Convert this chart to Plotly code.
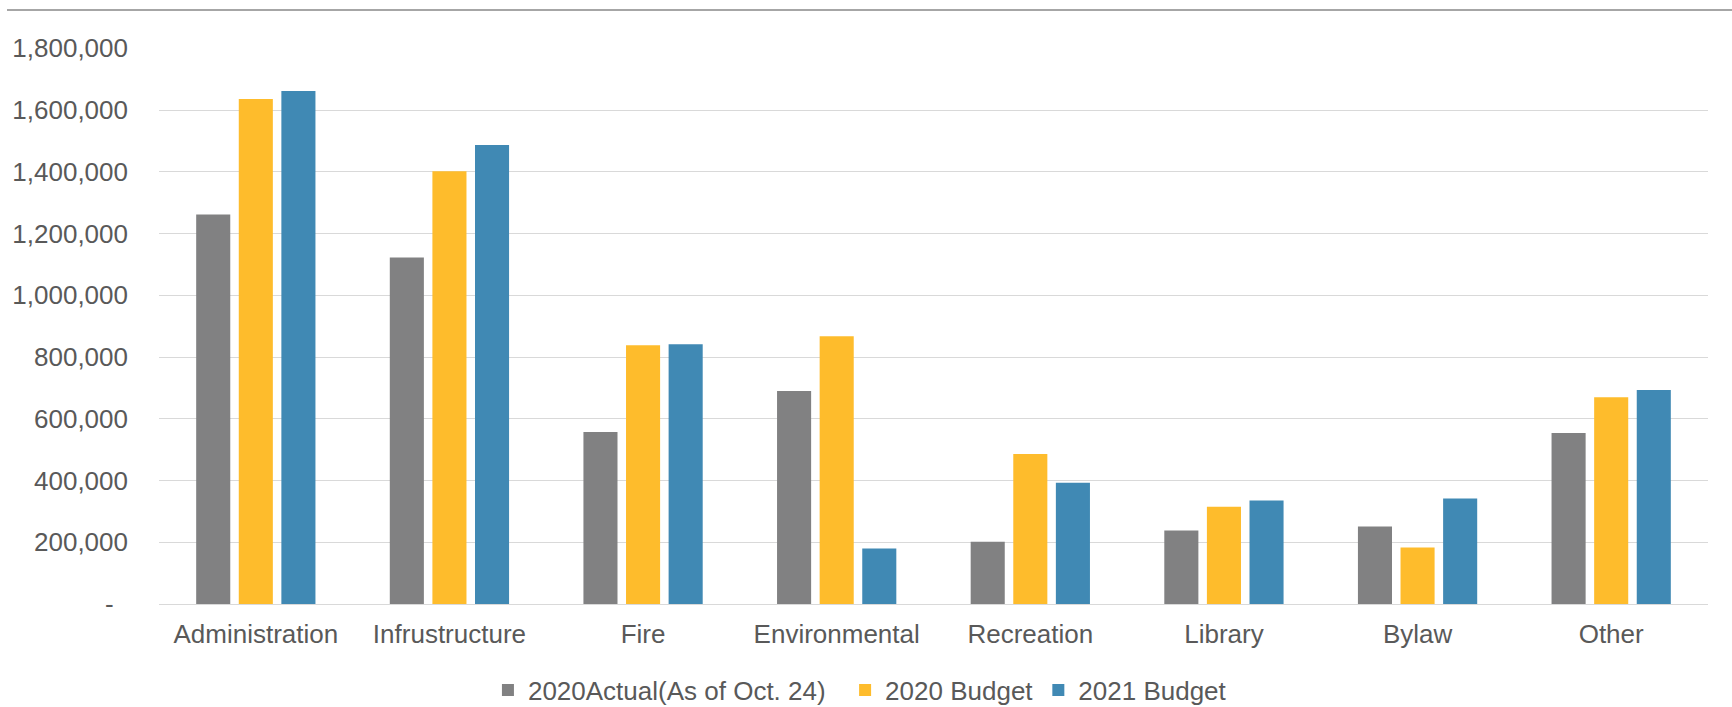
import plotly.graph_objects as go

# Departments on the x axis
departments = ["Administration", "Infrustructure", "Fire", "Environmental",
               "Recreation", "Library", "Bylaw", "Other"]

# Series values
actual_2020 = [1262000, 1122000, 557000, 690000, 202000, 238000, 251000, 554000]
budget_2020 = [1636000, 1402000, 838000, 867000, 486000, 315000, 183000, 670000]
budget_2021 = [1662000, 1487000, 841000, 180000, 393000, 335000, 342000, 693000]

series_names = ["2020Actual(As of Oct. 24)", "2020 Budget", "2021 Budget"]
series_colors = ["#818182", "#FEBC2C", "#4089B4"]

# Y axis ticks
y_tickvals = [0, 200000, 400000, 600000, 800000, 1000000, 1200000,
              1400000, 1600000, 1800000]
y_ticktext = ["-\u00a0\u00a0"] + [f"{v:,}" for v in y_tickvals[1:]]

W, H = 1732, 707
M_L, M_R, M_T, M_B = 159, 24, 48, 103
FONT = "Liberation Sans, Arial, sans-serif"
TEXT_COLOR = "#595959"

fig = go.Figure()
for i, (name, vals, color) in enumerate(zip(series_names,
                                            [actual_2020, budget_2020, budget_2021],
                                            series_colors)):
    # a little extra room after the long first legend entry
    label = name + "\u00a0\u00a0" if i == 0 else name
    fig.add_trace(go.Bar(x=departments, y=vals, name=label,
                         marker=dict(color=color, line=dict(width=0))))

# thin rule across the top of the chart
plot_w = W - M_L - M_R
plot_h = H - M_T - M_B
fig.add_shape(type="line", xref="paper", yref="paper",
              x0=(7 - M_L) / plot_w, x1=(W - M_L) / plot_w,
              y0=(H - M_B - 10) / plot_h, y1=(H - M_B - 10) / plot_h,
              line=dict(color="#888888", width=1.3))

fig.update_layout(
    width=W, height=H,
    margin=dict(l=M_L, r=M_R, t=M_T, b=M_B, pad=0),
    paper_bgcolor="white", plot_bgcolor="white",
    barmode="group", bargap=0.34, bargroupgap=0.2,
    font=dict(family=FONT, size=26, color=TEXT_COLOR),
    showlegend=True,
    legend=dict(orientation="h", xref="container", yref="container",
                x=0.4965, xanchor="center", y=1 - 690 / H, yanchor="middle",
                font=dict(family=FONT, size=26, color=TEXT_COLOR),
                itemwidth=30, tracegroupgap=0),
)

fig.update_xaxes(showgrid=False, showline=False, ticks="",
                 tickfont=dict(family=FONT, size=26, color=TEXT_COLOR),
                 ticklabelstandoff=12)
fig.update_yaxes(range=[0, 1801000], tickvals=y_tickvals, ticktext=y_ticktext,
                 showgrid=True, gridcolor="#D9D9D9", gridwidth=1.3,
                 zeroline=True, zerolinecolor="#D9D9D9", zerolinewidth=1.3,
                 showline=False, ticks="",
                 tickfont=dict(family=FONT, size=26, color=TEXT_COLOR),
                 ticklabelstandoff=30)

fig.write_html("out.html")
